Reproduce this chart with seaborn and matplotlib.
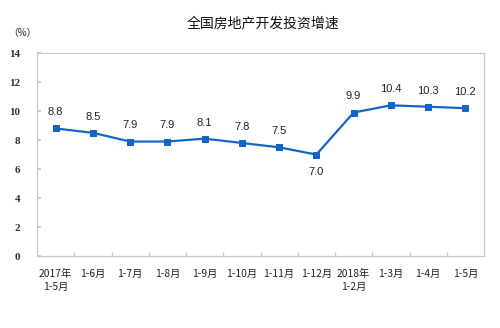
import matplotlib
matplotlib.use("Agg")
import matplotlib.pyplot as plt
import seaborn as sns
import pandas as pd
import numpy as np

# Cumulative year-on-year growth of national real-estate development investment (%)
periods = ["2017年\n1-5月", "1-6月", "1-7月", "1-8月", "1-9月", "1-10月",
           "1-11月", "1-12月", "2018年\n1-2月", "1-3月", "1-4月", "1-5月"]
growth = [8.8, 8.5, 7.9, 7.9, 8.1, 7.8, 7.5, 7.0, 9.9, 10.4, 10.3, 10.2]
y_ticks = [0, 2, 4, 6, 8, 10, 12, 14]

sns.set_theme(style="white")
plt.rcParams["font.family"] = ["Noto Sans CJK SC", "DejaVu Sans"]

df = pd.DataFrame({"pos": np.arange(len(periods)), "growth": growth})

line_color = "#1464C8"
fig = plt.figure(figsize=(5.0, 3.28), dpi=100)
ax = fig.add_axes([0.074, 0.2195, 0.894, 0.6185])

sns.lineplot(data=df, x="pos", y="growth", ax=ax, color=line_color,
             linewidth=1.6, marker="s", markersize=4.5,
             markeredgecolor=line_color, markerfacecolor=line_color)

# value labels: above each point, except the year-end dip which sits below
for x, v in zip(df["pos"], df["growth"]):
    if v == 7.0:
        ax.annotate(f"{v:.1f}", (x, v), xytext=(0, -9), textcoords="offset points",
                    ha="center", va="top", fontsize=8, family="Liberation Sans",
                    color="#222222")
    else:
        ax.annotate(f"{v:.1f}", (x, v), xytext=(0, 8), textcoords="offset points",
                    ha="center", va="bottom", fontsize=8, family="Liberation Sans",
                    color="#222222")

ax.set_xlim(-0.5, len(periods) - 0.5)
ax.set_ylim(0, 14)
ax.set_yticks(y_ticks)
ax.set_yticklabels([str(t) for t in y_ticks], family="Liberation Serif",
                   fontsize=8, fontweight="bold", color="#333333")
ax.set_xticks(df["pos"])
ax.set_xticklabels(periods, fontsize=7.4, linespacing=1.4, color="#222222")
ax.set_xticks(np.arange(0.5, len(periods) - 0.5, 1), minor=True)
ax.tick_params(axis="x", which="major", length=0, pad=9)
ax.tick_params(axis="x", which="minor", direction="in", length=3, color="#C8C8C8", bottom=True)
ax.tick_params(axis="y", direction="in", length=3, color="#C8C8C8", left=True, pad=12)
ax.set_xlabel("")
ax.set_ylabel("")

for s in ax.spines.values():
    s.set_color("#C8C8C8")
    s.set_linewidth(0.9)

fig.text(0.526, 0.93, "全国房地产开发投资增速", ha="center", va="center",
         fontsize=10, fontweight="medium", color="#111111")
fig.text(0.044, 0.9, "（%）", ha="center", va="center", fontsize=7, color="#222222")

fig.savefig("out.png", dpi=100)
